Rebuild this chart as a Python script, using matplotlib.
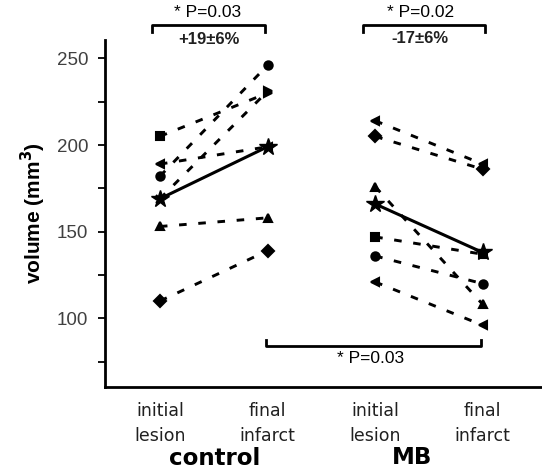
import matplotlib
matplotlib.use("Agg")
import matplotlib.pyplot as plt

plt.rcParams['font.family'] = ['Liberation Sans', 'DejaVu Sans']

# x positions of the four conditions
x_pos = [1, 2, 3, 4]
tick_labels = ['initial\nlesion', 'final\ninfarct', 'initial\nlesion', 'final\ninfarct']

# individual animals, volume (mm3): initial lesion -> final infarct
control_initial = [205, 189, 182, 169, 153, 110]
control_final = [230, 199, 246, 231, 158, 139]
control_markers = ['s', '<', 'o', 'x', '^', 'D']
control_end_markers = ['>', '<', 'o', '>', '^', 'D']

mb_initial = [214, 205, 176, 147, 136, 121]
mb_final = [189, 186, 108, 137, 120, 96]
mb_markers = ['<', 'D', '^', 's', 'o', '<']

# group means
control_mean = [169, 199]
mb_mean = [166, 138]

fig = plt.figure(figsize=(5.42, 4.73), dpi=100)
ax = fig.add_axes([105 / 542, (473 - 387) / 473, (542 - 105) / 542, (387 - 40) / 473])

dash = (0, (2.6, 4))

def draw_pair(x0, x1, v0, v1, m0, m1):
    ax.plot([x0, x1], [v0, v1], color='black', lw=2.1, ls=dash, clip_on=False)
    ax.plot([x0], [v0], marker=m0, color='black', ms=6, mew=1.5, ls='none', clip_on=False)
    ax.plot([x1], [v1], marker=m1, color='black', ms=6, mew=1.5, ls='none', clip_on=False)

for i in range(len(control_initial)):
    draw_pair(x_pos[0], x_pos[1], control_initial[i], control_final[i],
              control_markers[i], control_end_markers[i])
for i in range(len(mb_initial)):
    draw_pair(x_pos[2], x_pos[3], mb_initial[i], mb_final[i], mb_markers[i], mb_markers[i])

ax.plot(x_pos[:2], control_mean, color='black', lw=2.2, marker='*', ms=13)
ax.plot(x_pos[2:], mb_mean, color='black', lw=2.2, marker='*', ms=13)

ax.set_xlim(0.49, 4.55)
ax.set_ylim(60.4, 260.6)
ax.set_yticks([100, 150, 200, 250])
ax.set_yticks([75, 125, 175, 225], minor=True)
ax.set_xticks(x_pos)
ax.set_xticklabels(tick_labels, fontsize=12.5, color='#202020', linespacing=1.45,
                   family='DejaVu Sans')
ax.tick_params(axis='x', length=0, pad=11)
ax.tick_params(axis='y', which='both', direction='out', length=5, width=1.3,
               labelsize=13.5, labelcolor='#404040', pad=7)
for s in ['top', 'right']:
    ax.spines[s].set_visible(False)
for s in ['left', 'bottom']:
    ax.spines[s].set_linewidth(2)

ax.set_ylabel('volume (mm$^\\mathbf{3}$)', fontsize=15, fontweight='bold', labelpad=6)

# significance brackets
def bracket(xa, xb, y, tip):
    ax.plot([xa, xa, xb, xb], [y + tip, y, y, y + tip], color='black', lw=2, clip_on=False)

bracket(0.93, 1.975, 269.2, -4)
ax.text(1.44, 276.5, '* P=0.03', ha='center', va='center', fontsize=12.5)
ax.text(1.46, 260.6, '+19±6%', ha='center', va='center', fontsize=12, fontweight='bold', color='#202020')

bracket(2.89, 4.02, 269.2, -4)
ax.text(3.42, 276.5, '* P=0.02', ha='center', va='center', fontsize=12.5)
ax.text(3.42, 261.7, '-17±6%', ha='center', va='center', fontsize=12, fontweight='bold', color='#202020')

bracket(1.984, 3.98, 84.0, 3.5)
ax.text(2.96, 77.1, '* P=0.03', ha='center', va='center', fontsize=12.5)

fig.text(215 / 542, 1 - 458 / 473, 'control', ha='center', va='center', fontsize=16.5,
         fontweight='bold', family='DejaVu Sans')
fig.text(412 / 542, 1 - 457 / 473, 'MB', ha='center', va='center', fontsize=16.5,
         fontweight='bold', family='DejaVu Sans')

fig.savefig('out.png', dpi=100)
